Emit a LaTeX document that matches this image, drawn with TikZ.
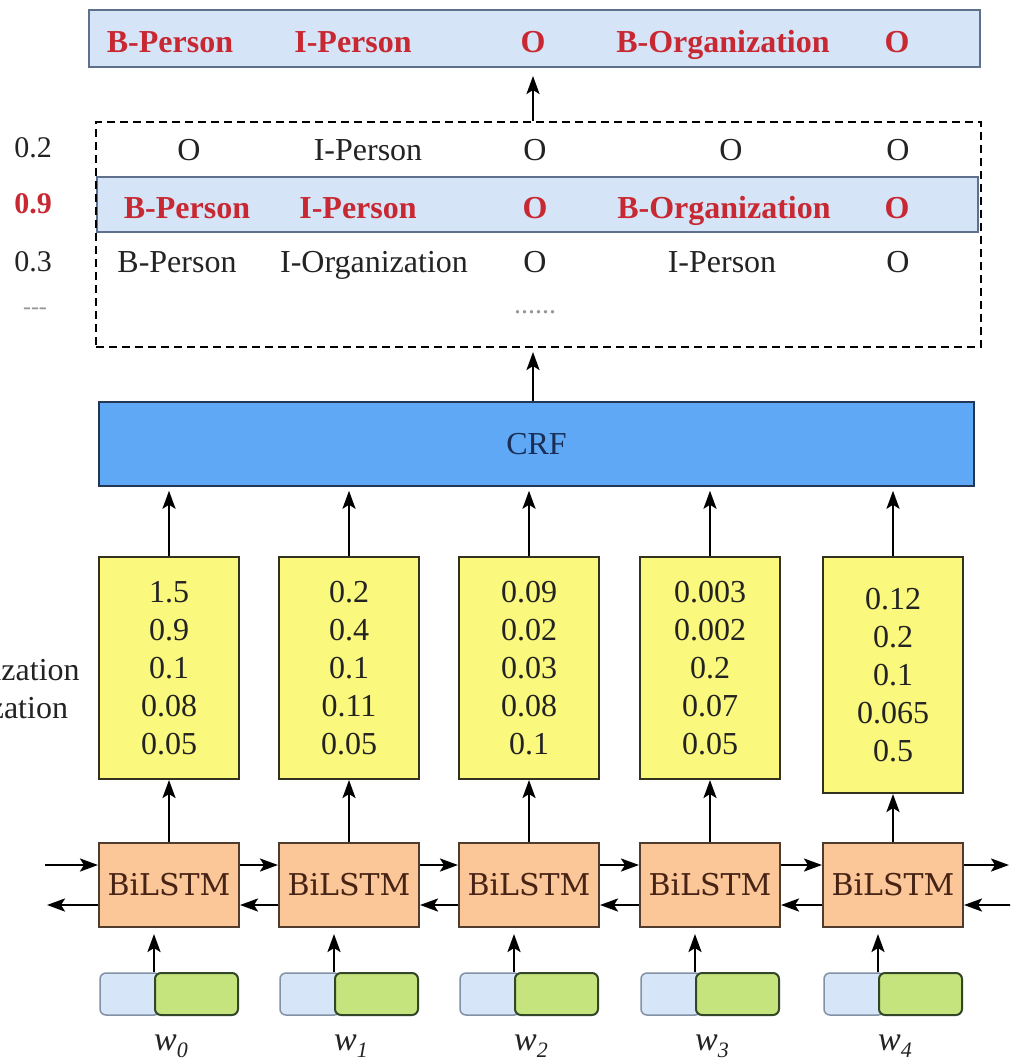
\documentclass[tikz,border=0pt]{standalone}
\usepackage{fontspec}
\setmainfont{Liberation Serif}
\newfontfamily\slabfont{DejaVu Serif}
\usetikzlibrary{arrows.meta}

\definecolor{tagred}{RGB}{200,40,50}
\definecolor{ink}{RGB}{35,35,35}
\definecolor{tagfill}{RGB}{213,228,247}
\definecolor{tagedge}{RGB}{95,112,140}
\definecolor{crffill}{RGB}{95,168,245}
\definecolor{crfedge}{RGB}{35,55,85}
\definecolor{crfink}{RGB}{25,45,85}
\definecolor{scorefill}{RGB}{250,248,125}
\definecolor{scoreedge}{RGB}{50,50,30}
\definecolor{lstmfill}{RGB}{251,198,152}
\definecolor{lstmedge}{RGB}{80,60,45}
\definecolor{lstmink}{RGB}{70,35,20}
\definecolor{charfill}{RGB}{214,230,248}
\definecolor{charedge}{RGB}{130,145,165}
\definecolor{wordfill}{RGB}{198,228,125}
\definecolor{wordedge}{RGB}{50,70,40}
\definecolor{faint}{RGB}{150,150,150}

\newcommand\fsz[1]{\fontsize{#1}{#1}\selectfont}
% italic word symbol with an italic index
\newcommand\wsym[1]{\textit{w}\raisebox{-7pt}{\fsz{22}\textit{#1}}}

\begin{document}
\begin{tikzpicture}[x=1pt,y=-1pt,
  arr/.style={line width=2.5pt,-{Stealth[length=18pt,width=13pt,inset=4pt]}},
  tagbox/.style={draw=tagedge,fill=tagfill,line width=2pt,inner sep=0pt},
  tag/.style={font=\fsz{32}\bfseries,text=tagred,anchor=base,inner sep=0pt},
  plain/.style={font=\fsz{32},text=ink,anchor=base,inner sep=0pt},
  score/.style={font=\fsz{30},text=ink,anchor=base,inner sep=0pt},
  crfbox/.style={draw=crfedge,fill=crffill,line width=1.5pt,minimum width=875pt,minimum height=84pt,
    font=\fsz{32},text=crfink,inner sep=0pt},
  scorebox/.style={draw=scoreedge,fill=scorefill,line width=2pt,minimum width=140pt,
    font=\fontsize{32}{38}\selectfont,text=ink,align=center,inner sep=0pt},
  lstm/.style={draw=lstmedge,fill=lstmfill,line width=2pt,minimum width=140pt,minimum height=84pt,
    font=\slabfont\fsz{30},text=lstmink,inner sep=0pt},
  charbox/.style={draw=charedge,fill=charfill,line width=1.5pt,rounded corners=6pt,
    minimum width=60pt,minimum height=42pt,inner sep=0pt},
  wordbox/.style={draw=wordedge,fill=wordfill,line width=2pt,rounded corners=6pt,
    minimum width=83pt,minimum height=42pt,inner sep=0pt},
  word/.style={font=\fsz{34},text=ink,anchor=base,inner sep=0pt},
  row/.style={font=\fsz{32},text=ink,anchor=base west,inner sep=0pt}
]
\useasboundingbox (0,0) rectangle (1010,1063);
\fill[white] (0,0) rectangle (1010,1063);
\clip (0,0) rectangle (1010,1063);

% final decoded tag sequence
\node[tagbox,minimum width=891pt,minimum height=57pt] (best) at (534.5,38.5) {};
\node[tag] (t0) at (170,52) {B-Person};
\node[tag] (t1) at (353,52) {I-Person};
\node[tag] (t2) at (533,52) {O};
\node[tag] (t3) at (723,52) {B-Organization};
\node[tag] (t4) at (897,52) {O};

% candidate sequences with their scores
\node[tagbox,minimum width=881pt,minimum height=55pt] (hl) at (537.5,204.5) {};
\node[draw=black,line width=2pt,dash pattern=on 8pt off 5pt,minimum width=885pt,minimum height=225pt,inner sep=0pt]
  (cands) at (538.5,234.5) {};

\node[score] (s0) at (33,157) {0.2};
\node[score,text=tagred,font=\fsz{30}\bfseries] (s1) at (33,213) {0.9};
\node[score] (s2) at (33,271) {0.3};
\node[score,text=faint,font=\fsz{24}] (s3) at (35,314) {-{}-{}-};

\node[plain] (a0) at (189,160) {O};
\node[plain] (a1) at (368,160) {I-Person};
\node[plain] (a2) at (535,160) {O};
\node[plain] (a3) at (731,160) {O};
\node[plain] (a4) at (898,160) {O};

\node[tag] (c0) at (187,218) {B-Person};
\node[tag] (c1) at (358,218) {I-Person};
\node[tag] (c2) at (535,218) {O};
\node[tag] (c3) at (724,218) {B-Organization};
\node[tag] (c4) at (897,218) {O};

\node[plain] (d0) at (177,272) {B-Person};
\node[plain] (d1) at (374,272) {I-Organization};
\node[plain] (d2) at (535,272) {O};
\node[plain] (d3) at (722,272) {I-Person};
\node[plain] (d4) at (898,272) {O};

\node[plain,text=faint,font=\fsz{28}] (more) at (535,313) {......};

% CRF layer
\node[crfbox] (crf) at (536.5,444) {CRF};

% tag names of the emission rows
\node[row] (l0) at (-119,603) {B-Person};
\node[row] (l1) at (-119,641) {I-Person};
\node[row] (l2) at (-119,680) {B-Organization};
\node[row] (l3) at (-120,718) {I-Organization};
\node[row] (l4) at (-119,756) {O};

% per-token emission scores, BiLSTM cells and word embeddings
\foreach \i/\cx/\cy/\h/\vals in {
  0/169/668/222/{1.5\\0.9\\0.1\\0.08\\0.05},
  1/349/668/222/{0.2\\0.4\\0.1\\0.11\\0.05},
  2/529/668/222/{0.09\\0.02\\0.03\\0.08\\0.1},
  3/710/668/222/{0.003\\0.002\\0.2\\0.07\\0.05},
  4/893/675/236/{0.12\\0.2\\0.1\\0.065\\0.5}} {
  \node[scorebox,minimum height=\h pt] (y\i) at (\cx,\cy) {\vals};
  \node[lstm] (b\i) at (\cx,885) {BiLSTM};
  \node[charbox] (eb\i) at (\cx-39,994) {};
  \node[wordbox] (eg\i) at (\cx+27.5,994) {};
  \node[word] (w\i) at (\cx+2,1050) {\wsym{\i}};
  \draw[arr] (b\i.north) -- (y\i.south);
  \draw[arr,shorten >=4pt] (y\i.north) -- (y\i.north |- crf.south);
  \draw[arr,shorten >=6pt] (eg\i.north west) -- (eg\i.north west |- b\i.south);
}

\draw[arr,shorten >=4pt] (t2 |- crf.north) -- (t2 |- cands.south);
\draw[arr,shorten >=8pt] (t2 |- cands.north) -- (t2 |- best.south);

% recurrent connections in both directions
\foreach \i/\j in {0/1,1/2,2/3,3/4} {
  \draw[arr] ([yshift=20pt]b\i.east) -- ([yshift=20pt]b\j.west);
  \draw[arr] ([yshift=-20pt]b\j.west) -- ([yshift=-20pt]b\i.east);
}
\coordinate (inL) at (45,865);
\coordinate (outL) at (47,905);
\coordinate (outR) at (1009,865);
\coordinate (inR) at (1012,905);
\draw[arr] (inL) -- ([yshift=20pt]b0.west);
\draw[arr] ([yshift=-20pt]b0.west) -- (outL);
\draw[arr] ([yshift=20pt]b4.east) -- (outR);
\draw[arr] (inR) -- ([yshift=-20pt]b4.east);
\end{tikzpicture}
\end{document}
